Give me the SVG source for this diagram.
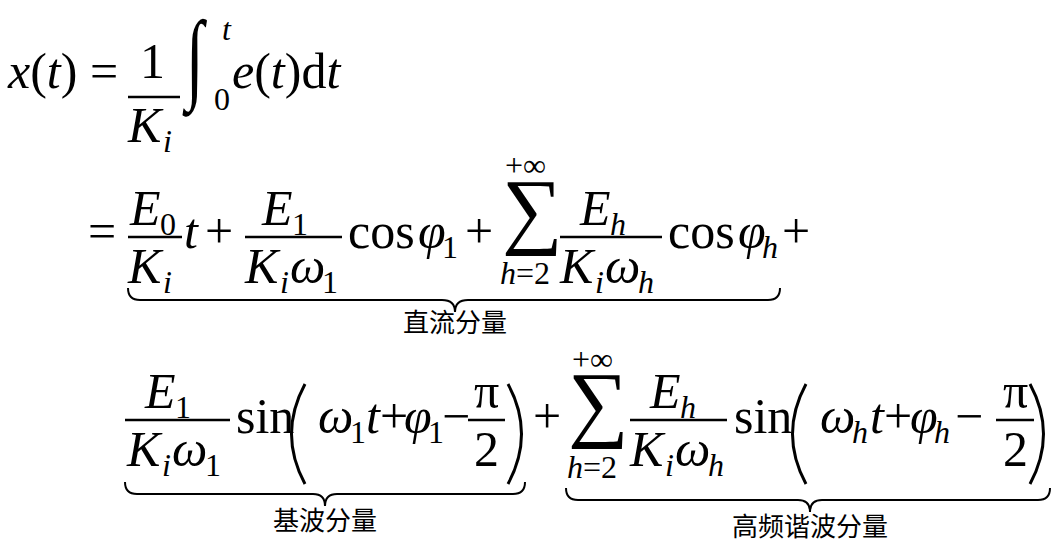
<svg xmlns="http://www.w3.org/2000/svg" width="1062" height="553" viewBox="0 0 1062 553">
<style>
text{font-family:"Liberation Serif",serif;font-size:50px;fill:#000}
.i{font-style:italic}
.s{font-size:32px}
.c{font-family:"Noto Sans CJK SC",sans-serif;font-size:26px}
.bar{stroke:#000;stroke-width:2.5}
.br{fill:none;stroke:#000;stroke-width:2}
.pr{fill:none;stroke:#000;stroke-width:3}
</style>
<rect width="1062" height="553" fill="#fff"/>
<!-- line 1 -->
<text x="8" y="88"><tspan class="i">x</tspan>(<tspan class="i">t</tspan>) =</text>
<text x="140" y="78">1</text>
<line class="bar" x1="128" y1="97" x2="180" y2="97"/>
<text x="128" y="142" class="i">K</text><text x="163" y="152" class="i s">i</text>
<text font-size="80" transform="translate(186,90) scale(1.3,2)">∫</text>
<text x="222" y="40" class="i s">t</text>
<text x="214" y="110" class="s">0</text>
<text x="232" y="88"><tspan class="i">e</tspan>(<tspan class="i">t</tspan>)d<tspan class="i">t</tspan></text>
<!-- line 2 -->
<text x="88" y="248">=</text>
<text x="130" y="225" class="i">E</text><text x="160" y="235" class="s">0</text>
<line class="bar" x1="128" y1="237" x2="182" y2="237"/>
<text x="128" y="283" class="i">K</text><text x="163" y="293" class="i s">i</text>
<text x="184" y="248" class="i">t</text>
<text x="205" y="248">+</text>
<text x="262" y="225" class="i">E</text><text x="292" y="235" class="s">1</text>
<line class="bar" x1="245" y1="237" x2="342" y2="237"/>
<text x="245" y="283" class="i">K</text><text x="280" y="293" class="i s">i</text><text x="290" y="283" class="i">ω</text><text x="322" y="293" class="s">1</text>
<text x="348" y="248">cos</text><text x="418" y="248" class="i">φ</text><text x="442" y="258" class="s">1</text>
<text x="465" y="248">+</text>
<text font-size="90" transform="translate(502,238) scale(1.7)">∑</text>
<text x="505" y="176" class="s">+∞</text>
<text x="500" y="284" class="s"><tspan class="i">h</tspan>=2</text>
<text x="580" y="225" class="i">E</text><text x="610" y="235" class="i s">h</text>
<line class="bar" x1="560" y1="237" x2="662" y2="237"/>
<text x="560" y="283" class="i">K</text><text x="595" y="293" class="i s">i</text><text x="605" y="283" class="i">ω</text><text x="638" y="293" class="i s">h</text>
<text x="668" y="248">cos</text><text x="738" y="248" class="i">φ</text><text x="762" y="258" class="i s">h</text>
<text x="782" y="248">+</text>
<path class="br" d="M128 288 Q128 300 140 300 L442 300 Q455 300 455 312 Q455 300 468 300 L768 300 Q780 300 780 288"/>
<text x="455" y="332" class="c" text-anchor="middle">直流分量</text>
<!-- line 3 -->
<text x="145" y="408" class="i">E</text><text x="175" y="418" class="s">1</text>
<line class="bar" x1="125" y1="420" x2="230" y2="420"/>
<text x="127" y="466" class="i">K</text><text x="162" y="476" class="i s">i</text><text x="172" y="466" class="i">ω</text><text x="205" y="476" class="s">1</text>
<text x="236" y="433">sin</text>
<path class="pr" d="M305 384 Q278 434 305 484"/>
<text x="318" y="433" class="i">ω</text><text x="350" y="443" class="s">1</text><text x="366" y="433" class="i">t</text><text x="380" y="433">+</text><text x="404" y="433" class="i">φ</text><text x="428" y="443" class="s">1</text><text x="442" y="433">−</text>
<text x="474" y="408">π</text>
<line class="bar" x1="468" y1="420" x2="505" y2="420"/>
<text x="474" y="466">2</text>
<path class="pr" d="M508 384 Q535 434 508 484"/>
<text x="533" y="433">+</text>
<text font-size="90" transform="translate(568,431) scale(1.7)">∑</text>
<text x="572" y="370" class="s">+∞</text>
<text x="567" y="478" class="s"><tspan class="i">h</tspan>=2</text>
<text x="650" y="408" class="i">E</text><text x="680" y="418" class="i s">h</text>
<line class="bar" x1="630" y1="420" x2="727" y2="420"/>
<text x="630" y="466" class="i">K</text><text x="665" y="476" class="i s">i</text><text x="675" y="466" class="i">ω</text><text x="708" y="476" class="i s">h</text>
<text x="734" y="433">sin</text>
<path class="pr" d="M806 384 Q779 434 806 484"/>
<text x="820" y="433" class="i">ω</text><text x="852" y="443" class="i s">h</text><text x="870" y="433" class="i">t</text><text x="884" y="433">+</text><text x="910" y="433" class="i">φ</text><text x="934" y="443" class="i s">h</text><text x="955" y="433">−</text>
<text x="1003" y="408">π</text>
<line class="bar" x1="996" y1="420" x2="1034" y2="420"/>
<text x="1003" y="466">2</text>
<path class="pr" d="M1030 384 Q1057 434 1030 484"/>
<path class="br" d="M125 482 Q125 494 137 494 L313 494 Q325 494 325 506 Q325 494 337 494 L513 494 Q525 494 525 482"/>
<text x="325" y="530" class="c" text-anchor="middle">基波分量</text>
<path class="br" d="M566 488 Q566 500 578 500 L798 500 Q810 500 810 512 Q810 500 822 500 L1038 500 Q1050 500 1050 488"/>
<text x="810" y="536" class="c" text-anchor="middle">高频谐波分量</text>
</svg>
